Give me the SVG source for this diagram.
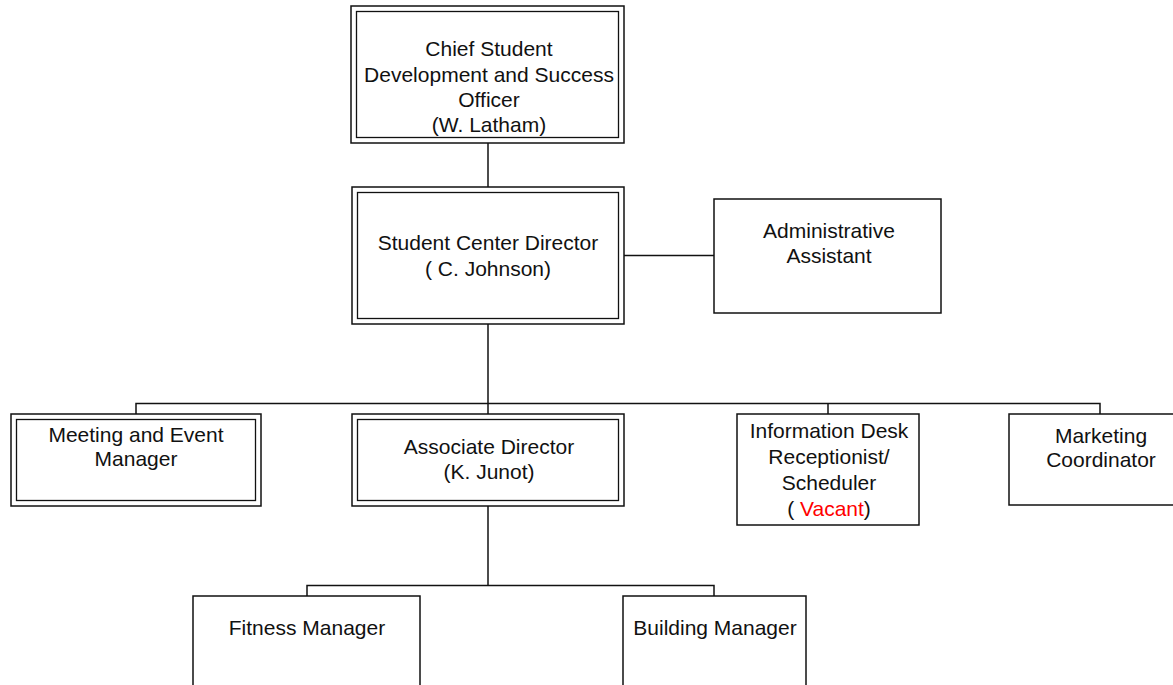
<svg xmlns="http://www.w3.org/2000/svg" width="1173" height="685" viewBox="0 0 1173 685">
<style>
.box{fill:#fff;stroke:#111;stroke-width:1.5}
.in{fill:none;stroke:#111;stroke-width:1.3}
.ln{fill:none;stroke:#111;stroke-width:1.5}
text{font-family:"Liberation Sans",Arial,sans-serif;font-size:21px;fill:#111;text-anchor:middle}
.red{fill:#ff0000}
</style>
<rect width="1173" height="685" fill="#fff"/>
<g id="connectors">
<path class="ln" d="M488 143V187"/>
<path class="ln" d="M624 255.5H714"/>
<path class="ln" d="M488 324V414"/>
<path class="ln" d="M136 414V403.5H1100V414"/>
<path class="ln" d="M828 403.5V414"/>
<path class="ln" d="M488 506V585.5"/>
<path class="ln" d="M307 596V585.5H714V596"/>
</g>
<g id="chief">
<rect class="box" x="351" y="6" width="273" height="137"/>
<rect class="in" x="356.5" y="11.5" width="262" height="126"/>
<text x="489" y="56">Chief Student</text>
<text x="489" y="82">Development and Success</text>
<text x="489" y="107">Officer</text>
<text x="489" y="132">(W. Latham)</text>
</g>
<g id="director">
<rect class="box" x="352" y="187" width="272" height="137"/>
<rect class="in" x="357.5" y="192.5" width="261" height="126"/>
<text x="488" y="250">Student Center Director</text>
<text x="488" y="276">( C. Johnson)</text>
</g>
<g id="admin">
<rect class="box" x="714" y="199" width="227" height="114"/>
<text x="829" y="238">Administrative</text>
<text x="829" y="263">Assistant</text>
</g>
<g id="meeting">
<rect class="box" x="11" y="414" width="250" height="92"/>
<rect class="in" x="16.5" y="419.5" width="239" height="81"/>
<text x="136" y="442">Meeting and Event</text>
<text x="136" y="466">Manager</text>
</g>
<g id="associate">
<rect class="box" x="352" y="414" width="272" height="92"/>
<rect class="in" x="357.5" y="419.5" width="261" height="81"/>
<text x="489" y="454">Associate Director</text>
<text x="489" y="479">(K. Junot)</text>
</g>
<g id="infodesk">
<rect class="box" x="737" y="414" width="182" height="111"/>
<text x="829" y="438">Information Desk</text>
<text x="829" y="464">Receptionist/</text>
<text x="829" y="490">Scheduler</text>
<text x="829" y="516">( <tspan class="red">Vacant</tspan>)</text>
</g>
<g id="marketing">
<rect class="box" x="1009" y="414" width="180" height="91"/>
<text x="1101" y="443">Marketing</text>
<text x="1101" y="467">Coordinator</text>
</g>
<g id="fitness">
<rect class="box" x="193" y="596" width="227" height="110"/>
<text x="307" y="635">Fitness Manager</text>
</g>
<g id="building">
<rect class="box" x="623" y="596" width="183" height="110"/>
<text x="715" y="635">Building Manager</text>
</g>
</svg>
